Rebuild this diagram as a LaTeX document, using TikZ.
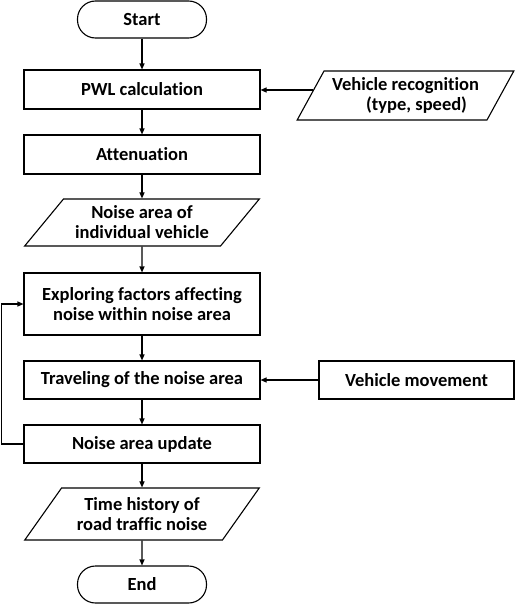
\documentclass[tikz,border=0pt]{standalone}
\usepackage{fontspec}
\setmainfont[Ligatures=NoCommon]{Carlito}
\usetikzlibrary{shapes.geometric,arrows.meta,calc}
\tikzset{
  base/.style={draw, line width=1.1pt, font=\bfseries\fontsize{18.5}{20}\selectfont, align=center, inner sep=0pt},
  term/.style={base, rounded corners=18pt, minimum width=129pt, minimum height=37pt},
  proc/.style={base, minimum width=236pt, minimum height=39pt},
  io/.style={base, trapezium, trapezium left angle=45, trapezium right angle=135, trapezium stretches=true, minimum width=235pt, minimum height=47pt},
  flow/.style={-{Triangle[length=6pt,width=5pt]}, line width=1.1pt}
}
\begin{document}
\begin{tikzpicture}[x=1pt,y=-1pt]
    \useasboundingbox (0,0) rectangle (516,605);

    % main column
    \node[term] at (142,19.5) (start) {Start};
    \node[proc] at (142,89.5) (pwl) {PWL calculation};
    \node[proc] at (142,154.5) (att) {Attenuation};
    \node[io] at (142,222.5) (area) {Noise area of\\individual vehicle};
    \node[proc, minimum height=62pt] at (142,304) (expl) {Exploring factors affecting\\noise within noise area};
    \node[proc, minimum height=38pt] at (142,380) (trav) {Traveling of the noise area};
    \node[proc, minimum height=38pt] at (142,444) (upd) {Noise area update};
    \node[io, minimum height=52pt, trapezium left angle=48, trapezium right angle=132] at (142,514) (hist) {Time history of\\road traffic noise};
    \node[term] at (142,584.5) (end) {End};

    % side inputs
    \node[io, minimum width=217pt, minimum height=49pt, trapezium left angle=56, trapezium right angle=124] at (405.5,95.5) (recog) {Vehicle recognition\\\hspace*{1.2em}(type, speed)};
    \node[proc, minimum width=195pt, minimum height=38pt] at (416.5,380) (move) {Vehicle movement};

    \draw[flow] (start) -- (pwl);
    \draw[flow] (pwl) -- (att);
    \draw[flow] (att) -- (area);
    \draw[flow] (area) -- (expl);
    \draw[flow] (expl) -- (trav);
    \draw[flow] (trav) -- (upd);
    \draw[flow] (upd) -- (hist);
    \draw[flow] (hist) -- (end);

    \coordinate (recogin) at ($(recog.top left corner)!0.39!(recog.bottom left corner)$);
    \draw[flow] (recogin) -- (recogin -| pwl.east);
    \draw[flow] (move) -- (trav);

    % loop back
    \draw[flow] (upd.west) -- ++(-22,0) |- (expl.west);
\end{tikzpicture}
\end{document}
